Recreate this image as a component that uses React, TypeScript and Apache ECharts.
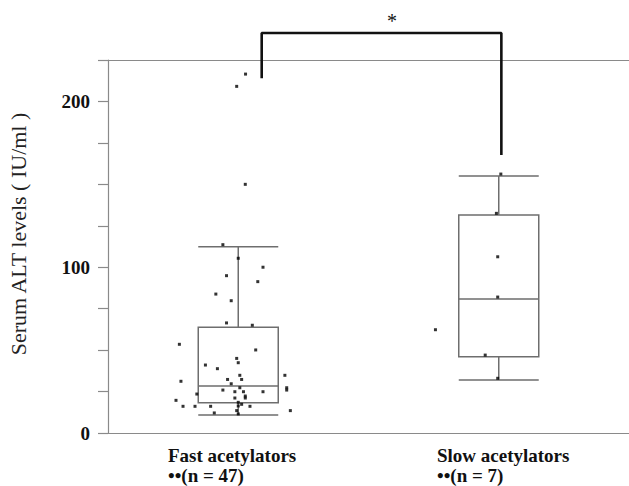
import React, { useEffect, useRef } from "react";
import * as echarts from "echarts";

const categories = ["Fast acetylators", "Slow acetylators"];
const sampleLabels = ["••(n = 47)", "••(n = 7)"];
const yAxisTitle = "Serum ALT levels ( IU/ml )";
const yTickLabels = [0, 100, 200];
const significance = "*";

// [lower whisker, Q1, median, Q3, upper whisker]
const fastBox = [10.9, 18.3, 28.4, 63.8, 112.4];
const slowBox = [32.0, 46.0, 80.8, 131.5, 155.0];

const fastValues = [
  216.5, 209.1, 150.0, 113.6, 105.4, 100.0, 94.9, 91.3, 83.8, 79.8, 66.4, 65.0,
  53.5, 50.1, 45.0, 42.4, 41.0, 38.8, 34.8, 34.8, 31.2, 32.3, 32.3, 29.7, 27.3,
  27.3, 25.9, 25.9, 24.9, 24.9, 24.9, 23.5, 22.3, 21.1, 21.1, 19.7, 18.5, 17.3,
  16.3, 16.1, 16.1, 16.1, 16.1, 13.5, 13.5, 12.1, 11.5,
];
const fastJitter = [
  0.028, -0.006, 0.027, -0.059, 0.0, 0.095, -0.045, 0.075, -0.086, -0.027,
  -0.045, 0.054, -0.226, 0.067, -0.006, 0.0, -0.126, -0.08, 0.006, 0.179,
  -0.22, -0.041, 0.013, -0.027, 0.006, 0.186, 0.186, -0.059, -0.013, 0.02,
  0.095, -0.159, 0.027, 0.027, -0.013, -0.239, 0.0, 0.013, 0.0, -0.212,
  -0.166, -0.106, 0.045, 0.2, -0.006, -0.092, 0.0,
];
const slowValues = [156.2, 132.5, 106.3, 82.0, 62.3, 47.0, 33.0];
const slowJitter = [0.008, -0.009, -0.004, -0.004, -0.243, -0.052, -0.004];

// significance bracket (x in category units, y in IU/ml)
const bracketX = [1.09, 1.09, 2.01, 2.01];
const bracketY = [214.0, 241.3, 241.3, 167.7];

const FONT = "'Liberation Serif', 'Times New Roman', serif";
const AXIS_COLOR = "#8a8a8a";

export default function App() {
  const ref = useRef<HTMLDivElement>(null);

  useEffect(() => {
    if (!ref.current) return;
    const chart = echarts.init(ref.current, undefined, { renderer: "svg" });

    const fastPts = fastValues.map((v, i) => [1 + fastJitter[i], v]);
    const slowPts = slowValues.map((v, i) => [2 + slowJitter[i], v]);
    const bracket = bracketX.map((x, i) => [x, bracketY[i]]);

    chart.setOption({
      animation: false,
      backgroundColor: "#ffffff",
      grid: { left: 108, right: -7, top: 60, bottom: 53, containLabel: false },
      xAxis: [
        {
          type: "category",
          data: categories,
          position: "bottom",
          boundaryGap: true,
          axisLine: { show: true, lineStyle: { color: AXIS_COLOR, width: 1.2 } },
          axisTick: { show: false },
          axisLabel: { show: false },
          splitLine: { show: false },
        },
        {
          type: "value",
          min: 0.5,
          max: 2.5,
          position: "top",
          axisLine: { show: true, onZero: false, lineStyle: { color: AXIS_COLOR, width: 1.2 } },
          axisTick: { show: false },
          axisLabel: { show: false },
          splitLine: { show: false },
        },
      ],
      yAxis: {
        type: "value",
        min: 0,
        max: 225,
        interval: 25,
        axisLine: { show: true, lineStyle: { color: AXIS_COLOR, width: 1.2 } },
        axisTick: { show: true, length: 10, lineStyle: { color: AXIS_COLOR, width: 1.2 } },
        splitLine: { show: false },
        axisLabel: {
          margin: 18,
          fontFamily: FONT,
          fontWeight: "bold",
          fontSize: 19,
          color: "#111",
          formatter: (v: number) => (yTickLabels.includes(v) ? String(v) : ""),
        },
      },
      series: [
        {
          type: "boxplot",
          xAxisIndex: 0,
          data: [fastBox, slowBox],
          boxWidth: [79, 80],
          itemStyle: { color: "#ffffff", borderColor: "#6e6e6e", borderWidth: 1.5 },
          z: 2,
        },
        {
          type: "scatter",
          xAxisIndex: 1,
          data: [...fastPts, ...slowPts],
          symbol: "rect",
          symbolSize: 3,
          itemStyle: { color: "#000" },
          z: 5,
        },
        {
          type: "line",
          xAxisIndex: 1,
          data: bracket,
          clip: false,
          symbol: "none",
          lineStyle: { color: "#111", width: 2.6 },
          z: 6,
        },
      ],
      graphic: [
        {
          type: "text",
          x: 18,
          y: 234,
          rotation: Math.PI / 2,
          style: {
            text: yAxisTitle,
            font: `22px ${FONT}`,
            fill: "#222",
            textAlign: "center",
            textVerticalAlign: "middle",
          },
        },
        {
          type: "text",
          x: 392,
          y: 21,
          style: {
            text: significance,
            font: `20px ${FONT}`,
            fill: "#111",
            textAlign: "center",
            textVerticalAlign: "middle",
          },
        },
        ...categories.map((c, i) => ({
          type: "text",
          x: i === 0 ? 168 : 437,
          y: 455,
          style: {
            text: c,
            font: `bold 19px ${FONT}`,
            fill: "#111",
            textAlign: "left",
            textVerticalAlign: "middle",
          },
        })),
        ...sampleLabels.map((c, i) => ({
          type: "text",
          x: i === 0 ? 168 : 437,
          y: 475,
          style: {
            text: c,
            font: `bold 19px ${FONT}`,
            fill: "#111",
            textAlign: "left",
            textVerticalAlign: "middle",
          },
        })),
      ],
    });

    return () => chart.dispose();
  }, []);

  return (
    <div
      ref={ref}
      style={{ position: "absolute", left: 0, top: 0, width: 629, height: 486 }}
    />
  );
}
